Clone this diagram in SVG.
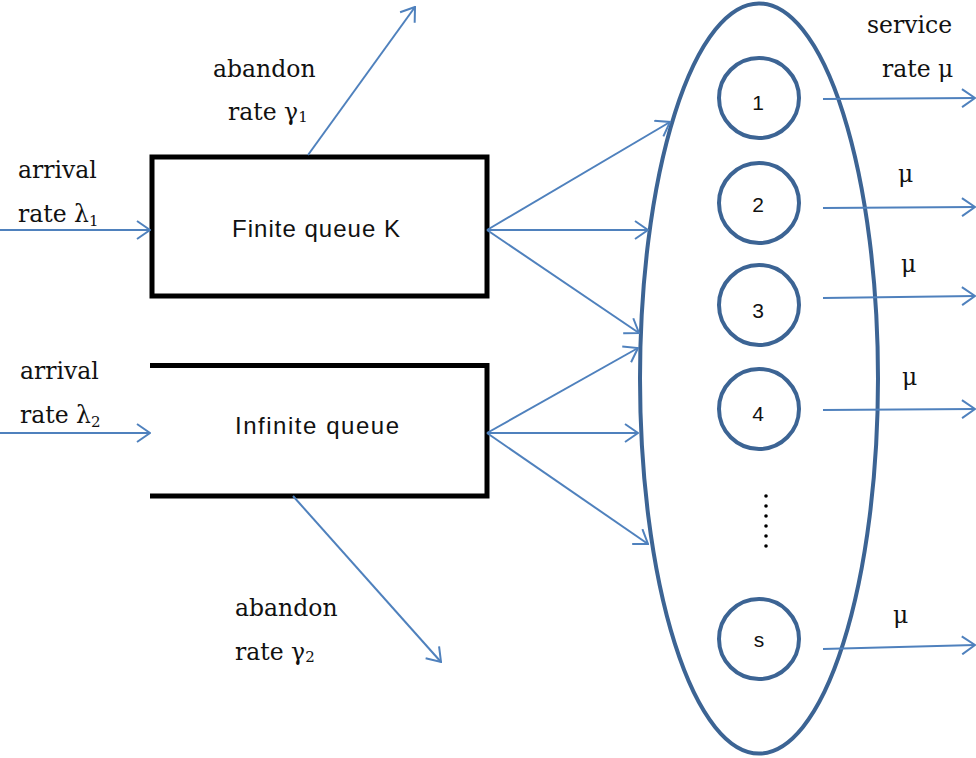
<svg xmlns="http://www.w3.org/2000/svg" width="976" height="758" viewBox="0 0 976 758">
<style>
.lbl{font-family:"DejaVu Serif","Liberation Serif",serif;font-size:23.5px;fill:#111}
.sub{font-size:15px}
.box{fill:none;stroke:#000;stroke-width:5}
.btxt{font-family:"Liberation Sans",Arial,sans-serif;font-size:24px;fill:#111}
.srv{fill:none;stroke:#3c6494;stroke-width:4}
.num{font-family:"Liberation Sans",Arial,sans-serif;font-size:21px;fill:#111;text-anchor:middle}
.arr{fill:none;stroke:#4f81bd;stroke-width:2;marker-end:url(#ah)}
</style>
<defs>
<marker id="ah" viewBox="0 0 16 20" refX="15" refY="10" markerWidth="16" markerHeight="20" orient="auto" markerUnits="userSpaceOnUse">
<path d="M2,1 L15,10 L2,19" fill="none" stroke="#4f81bd" stroke-width="2"/>
</marker>
</defs>
<rect width="976" height="758" fill="#fff"/>

<g id="finite-queue">
<rect class="box" x="152" y="157" width="335" height="139"/>
<text class="btxt" x="232" y="237" textLength="168">Finite queue K</text>
</g>
<g id="infinite-queue">
<path class="box" d="M150,365.5 H487 V496 H150"/>
<text class="btxt" x="235" y="434" textLength="164">Infinite queue</text>
</g>
<g id="servers">
<ellipse class="srv" cx="759" cy="378.5" rx="119" ry="375"/>
<g id="server-1"><circle class="srv" cx="759" cy="98" r="40"/><text class="num" x="758" y="110">1</text></g>
<g id="server-2"><circle class="srv" cx="759" cy="203" r="40"/><text class="num" x="758" y="212">2</text></g>
<g id="server-3"><circle class="srv" cx="759" cy="305" r="40"/><text class="num" x="758" y="318">3</text></g>
<g id="server-4"><circle class="srv" cx="759" cy="409" r="40"/><text class="num" x="758" y="421">4</text></g>
<g id="dots" fill="#000">
<circle cx="766" cy="496" r="1.8"/><circle cx="766" cy="506" r="1.8"/><circle cx="766" cy="516" r="1.8"/><circle cx="766" cy="526" r="1.8"/><circle cx="766" cy="536" r="1.8"/><circle cx="766" cy="546" r="1.8"/>
</g>
<g id="server-s"><circle class="srv" cx="759" cy="639" r="40"/><text class="num" x="759" y="647">s</text></g>
</g>

<g id="connectors">
<line class="arr" x1="0" y1="230" x2="150" y2="230"/>
<line class="arr" x1="0" y1="433" x2="150" y2="433"/>
<line class="arr" x1="308" y1="155" x2="415" y2="7"/>
<line class="arr" x1="293" y1="496" x2="441" y2="662"/>
<line class="arr" x1="487" y1="230" x2="670" y2="122"/>
<line class="arr" x1="487" y1="230" x2="648" y2="230"/>
<line class="arr" x1="487" y1="230" x2="639" y2="333"/>
<line class="arr" x1="487" y1="433" x2="638" y2="348"/>
<line class="arr" x1="487" y1="433" x2="638" y2="433"/>
<line class="arr" x1="487" y1="433" x2="648" y2="544"/>
<line class="arr" x1="823" y1="99" x2="975" y2="98"/>
<line class="arr" x1="823" y1="208" x2="975" y2="207"/>
<line class="arr" x1="823" y1="298" x2="975" y2="296"/>
<line class="arr" x1="823" y1="410" x2="975" y2="409"/>
<line class="arr" x1="823" y1="649" x2="975" y2="645"/>
</g>

<g id="labels">
<text class="lbl" x="18" y="178">arrival</text>
<text class="lbl" x="18" y="222">rate λ<tspan class="sub" dy="4">1</tspan></text>
<text class="lbl" x="20" y="379">arrival</text>
<text class="lbl" x="20" y="423">rate λ<tspan class="sub" dy="4">2</tspan></text>
<text class="lbl" x="213" y="77">abandon</text>
<text class="lbl" x="228" y="120">rate γ<tspan class="sub" dy="2">1</tspan></text>
<text class="lbl" x="235" y="616">abandon</text>
<text class="lbl" x="235" y="660">rate γ<tspan class="sub" dy="2">2</tspan></text>
<text class="lbl" x="867" y="33">service</text>
<text class="lbl" x="882" y="77">rate μ</text>
<text class="lbl" x="898" y="182">μ</text>
<text class="lbl" x="901" y="272">μ</text>
<text class="lbl" x="902" y="385">μ</text>
<text class="lbl" x="893" y="623">μ</text>
</g>
</svg>
